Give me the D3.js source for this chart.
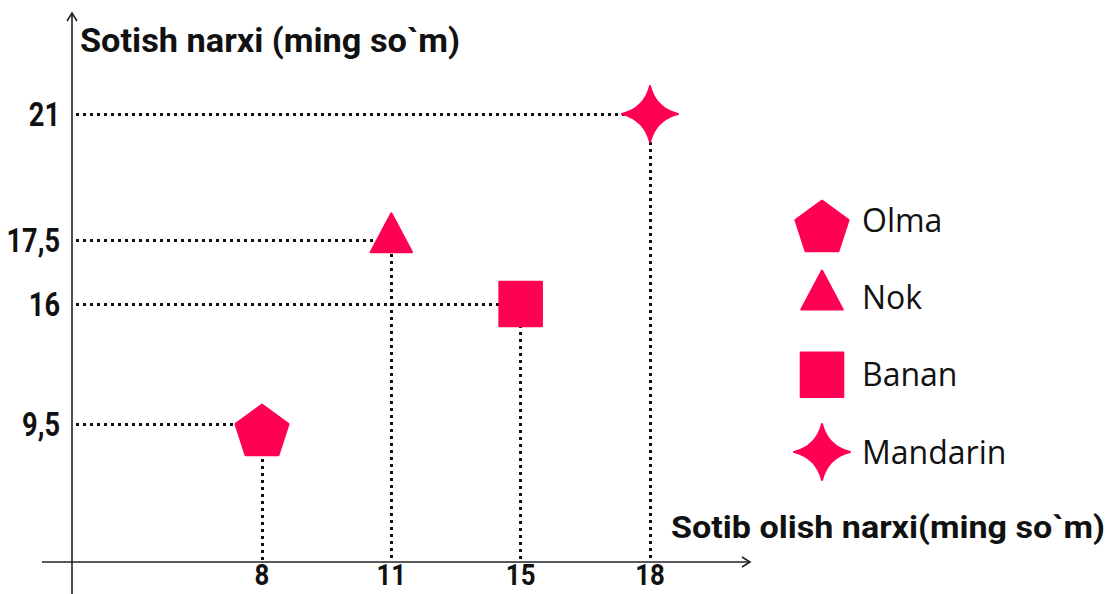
<!DOCTYPE html>
<html>
<head>
<meta charset="utf-8">
<script src="https://cdn.jsdelivr.net/npm/d3@7"></script>
<style>
  html, body { margin: 0; padding: 0; background: #fff; }
  svg { display: block; }
  .axis-text { font-family: Roboto, "DejaVu Sans Condensed", sans-serif; font-weight: 700; fill: #111; }
  .legend-text { font-family: "Open Sans", "Noto Sans", sans-serif; fill: #111; }
</style>
</head>
<body>
<div id="chart"></div>
<script>
// ma'lumotlar
const fruits = ["Olma", "Nok", "Banan", "Mandarin"];
const buyPrice = [8, 11, 15, 18];
const sellPrice = [9.5, 17.5, 16, 21];
const buyTickLabels = ["8", "11", "15", "18"];
const sellTickLabels = ["9,5", "17,5", "16", "21"];
const markerShapes = ["pentagon", "triangle", "square", "star"];

const yTitle = "Sotish narxi (ming so`m)";
const xTitle = "Sotib olish narxi(ming so`m)";

const width = 1115;
const height = 594;
const color = "#ff0052";
const origin = { x: 72, y: 562 };

const svg = d3.select("#chart").append("svg")
  .attr("width", width)
  .attr("height", height);

// x: teng qadamli nuqtalar
const x = d3.scalePoint()
  .domain(buyPrice)
  .range([262, 650]);

// y: rasmda masshtab bir tekis emas, shuning uchun bo'lakli chiziqli shkala
const sortedSell = [...sellPrice].sort(d3.ascending);
const y = d3.scaleLinear()
  .domain(sortedSell)
  .range([424, 304, 240, 114]);

// DIN ga o'xshash tor shrift effekti
const condense = (sel, k) => {
  sel.each(function () {
    const len = this.getComputedTextLength();
    d3.select(this)
      .attr("textLength", len * k)
      .attr("lengthAdjust", "spacingAndGlyphs");
  });
};

// shakllar
const shapeDraw = {
  pentagon: (r) => {
    const pts = d3.range(5).map((k) => {
      const a = -Math.PI / 2 + (k * 2 * Math.PI) / 5;
      return [r * Math.cos(a), r * Math.sin(a) + r * 0.309];
    });
    return "M" + pts.map((p) => p.join(",")).join("L") + "Z";
  },
  triangle: (r) => {
    const h = r * 1.45;
    return `M0,${-h * 0.66}L${r * 0.74},${h * 0.3}L${-r * 0.74},${h * 0.3}Z`;
  },
  square: (r) => {
    const w = r * 0.76;
    return `M${-w},${-w - 1}H${w}V${w + 1}H${-w}Z`;
  },
  star: (r) => {
    const c = r * 0.2;
    return `M0,${-r}Q${c},${-c} ${r},0Q${c},${c} 0,${r}Q${-c},${c} ${-r},0Q${-c},${-c} 0,${-r}Z`;
  },
};

const points = fruits.map((f, i) => ({
  name: f,
  buy: buyPrice[i],
  sell: sellPrice[i],
  shape: markerShapes[i],
}));

// nuqtali yo'l-chiziqlar
const guides = svg.append("g")
  .attr("stroke", "#111")
  .attr("stroke-width", 3)
  .attr("stroke-dasharray", "3 4")
  .attr("shape-rendering", "crispEdges")
  .attr("fill", "none");

guides.selectAll("line.h")
  .data(points)
  .join("line")
  .attr("class", "h")
  .attr("x1", origin.x + 4)
  .attr("x2", (d) => x(d.buy))
  .attr("y1", (d) => y(d.sell))
  .attr("y2", (d) => y(d.sell));

guides.selectAll("line.v")
  .data(points)
  .join("line")
  .attr("class", "v")
  .attr("x1", (d) => x(d.buy))
  .attr("x2", (d) => x(d.buy))
  .attr("y1", (d) => y(d.sell))
  .attr("y2", origin.y);

// o'qlar
const axis = svg.append("g")
  .attr("stroke", "#222")
  .attr("stroke-width", 1.6)
  .attr("fill", "none");

axis.append("line")
  .attr("x1", origin.x).attr("x2", origin.x)
  .attr("y1", 594).attr("y2", 13);
axis.append("path")
  .attr("d", `M${origin.x - 5},${21}L${origin.x},${13}L${origin.x + 5},${21}`);

axis.append("line")
  .attr("x1", 42).attr("x2", 750)
  .attr("y1", origin.y).attr("y2", origin.y);
axis.append("path")
  .attr("d", `M742,${origin.y - 5}L750,${origin.y}L742,${origin.y + 5}`);

// belgilar
svg.append("g")
  .selectAll("path")
  .data(points)
  .join("path")
  .attr("transform", (d) => `translate(${x(d.buy)},${y(d.sell)})`)
  .attr("d", (d) => shapeDraw[d.shape](28))
  .attr("fill", color)
  .attr("stroke", color)
  .attr("stroke-width", 2)
  .attr("stroke-linejoin", "round");

// shkala yozuvlari
svg.append("g")
  .selectAll("text")
  .data(points)
  .join("text")
  .attr("class", "axis-text")
  .attr("x", 60)
  .attr("y", (d) => y(d.sell))
  .attr("dy", "0.36em")
  .attr("text-anchor", "end")
  .attr("font-size", 34)
  .text((d, i) => sellTickLabels[i])
  .call(condense, 0.8);

svg.append("g")
  .selectAll("text")
  .data(points)
  .join("text")
  .attr("class", "axis-text")
  .attr("x", (d) => x(d.buy))
  .attr("y", 585)
  .attr("text-anchor", "middle")
  .attr("font-size", 30)
  .text((d, i) => buyTickLabels[i])
  .call(condense, 0.86);

// o'q sarlavhalari
svg.append("text")
  .attr("class", "axis-text")
  .attr("x", 80)
  .attr("y", 52)
  .attr("font-size", 33)
  .text(yTitle)
  .attr("textLength", 380)
  .attr("lengthAdjust", "spacingAndGlyphs");

svg.append("text")
  .attr("class", "axis-text")
  .attr("x", 671)
  .attr("y", 538)
  .attr("font-size", 32)
  .text(xTitle)
  .attr("textLength", 434)
  .attr("lengthAdjust", "spacingAndGlyphs");

// legenda
const legendY = d3.scalePoint()
  .domain(fruits)
  .range([220, 452]);

const legend = svg.append("g")
  .selectAll("g")
  .data(points)
  .join("g")
  .attr("transform", (d) => `translate(822,${legendY(d.name)})`);

legend.append("path")
  .attr("d", (d) => shapeDraw[d.shape](28))
  .attr("fill", color)
  .attr("stroke", color)
  .attr("stroke-width", 2)
  .attr("stroke-linejoin", "round");

legend.append("text")
  .attr("class", "legend-text")
  .attr("x", 40)
  .attr("dy", "0.36em")
  .attr("font-size", 32)
  .text((d) => d.name);
</script>
</body>
</html>
